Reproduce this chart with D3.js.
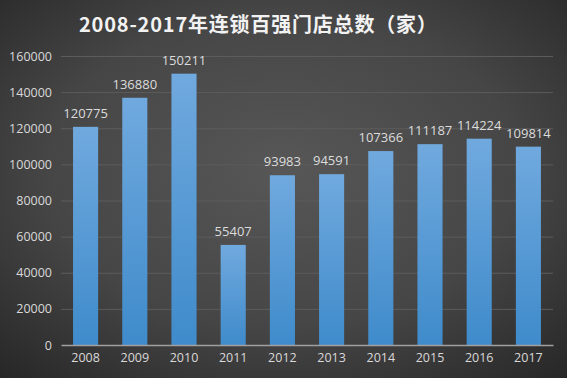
<!DOCTYPE html>
<html><head><meta charset="utf-8">
<script src="https://cdn.jsdelivr.net/npm/d3@7"></script>
<style>body{margin:0;background:#333}svg{display:block}</style>
</head><body><svg id="c" width="567" height="378"></svg>
<script>
const years = ["2008","2009","2010","2011","2012","2013","2014","2015","2016","2017"];
const stores = [120775,136880,150211,55407,93983,94591,107366,111187,114224,109814];
const yTicks = [0,20000,40000,60000,80000,100000,120000,140000,160000];
const title = "2008-2017年连锁百强门店总数（家）";

const W=567,H=378, m={l:61,r:14,t:56,b:33};
const svg=d3.select("#c");
const defs=svg.append("defs");
const rg=defs.append("radialGradient").attr("id","bg").attr("cx","50%").attr("cy","45%").attr("r","75%");
rg.append("stop").attr("offset","0%").attr("stop-color","#575757");
rg.append("stop").attr("offset","55%").attr("stop-color","#464646");
rg.append("stop").attr("offset","100%").attr("stop-color","#262626");
const bg=defs.append("linearGradient").attr("id","bar").attr("x1",0).attr("y1",0).attr("x2",0).attr("y2",1);
bg.append("stop").attr("offset","0%").attr("stop-color","#70a9de");
bg.append("stop").attr("offset","100%").attr("stop-color","#3f8bcb");
svg.append("rect").attr("width",W).attr("height",H).attr("fill","url(#bg)");

const x=d3.scaleBand().domain(years).range([m.l,W-m.r]).paddingInner(0.49).paddingOuter(0.245);
const y=d3.scaleLinear().domain([0,160000]).range([H-m.b,m.t]);

const g=svg.append("g");
g.selectAll("line.grid").data(yTicks.slice(1)).join("line").attr("class","grid")
 .attr("x1",m.l).attr("x2",W-m.r).attr("y1",d=>y(d)+0.5).attr("y2",d=>y(d)+0.5)
 .attr("stroke","#5c5c5c").attr("stroke-width",1);

const ya=svg.append("g").attr("transform",`translate(${m.l},0)`)
 .call(d3.axisLeft(y).tickValues(yTicks).tickSize(0).tickPadding(9).tickFormat(d=>String(d)));
ya.select(".domain").remove();
ya.selectAll("text").attr("fill","#d9d9d9").style("font-family","'Open Sans','DejaVu Sans',sans-serif").style("font-size","12.5px");

g.selectAll("rect.b").data(stores).join("rect").attr("class","b")
 .attr("x",(d,i)=>x(years[i])).attr("width",x.bandwidth())
 .attr("y",d=>y(d)).attr("height",d=>y(0)-y(d)).attr("fill","url(#bar)");

g.selectAll("text.v").data(stores).join("text").attr("class","v")
 .attr("x",(d,i)=>x(years[i])+x.bandwidth()/2).attr("y",d=>y(d)-9)
 .attr("text-anchor","middle").attr("fill","#dcdcdc")
 .style("font-family","'Open Sans','DejaVu Sans',sans-serif").style("font-size","13px")
 .text(d=>d);

const xa=svg.append("g").attr("transform",`translate(0,${y(0)})`)
 .call(d3.axisBottom(x).tickSize(0).tickPadding(8));
xa.select(".domain").attr("stroke","#a0a0a0").attr("stroke-width",1.5);
xa.selectAll("text").attr("fill","#d9d9d9").style("font-family","'Open Sans','DejaVu Sans',sans-serif").style("font-size","12.5px");

svg.append("text").attr("x",79).attr("y",32).attr("text-anchor","start")
 .attr("fill","#f2f2f2").style("font-family","'Noto Sans CJK SC',sans-serif")
 .style("font-weight","bold").style("font-size","20px").style("letter-spacing","0.8px").text(title);
</script></body></html>
